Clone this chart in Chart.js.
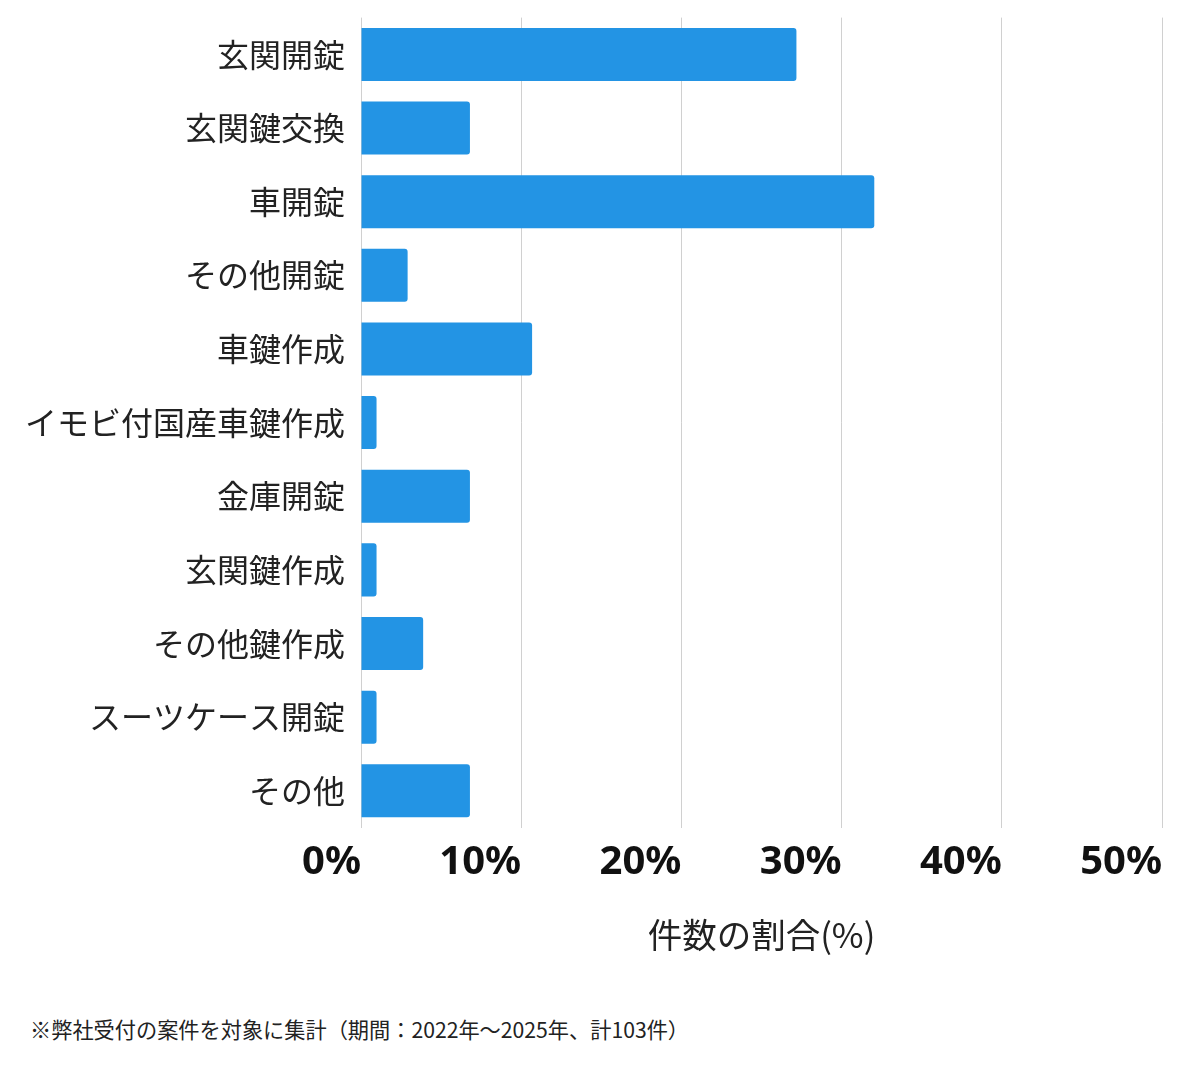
<!DOCTYPE html>
<html lang="ja">
<head>
<meta charset="utf-8">
<title>件数の割合</title>
<script src="https://cdn.jsdelivr.net/npm/chart.js@4.4.0/dist/chart.umd.min.js"></script>
<style>
  html, body { margin: 0; padding: 0; background: #fff; }
  #wrap { position: relative; width: 1200px; height: 1069px; }
  #chartBox { position: absolute; left: 0; top: 0; width: 1200px; height: 975px; }
  #note {
    position: absolute; left: 30px; top: 1013px;
    font-family: "Noto Sans CJK JP", "Noto Sans", sans-serif;
    font-size: 21.2px; color: #222;
  }
</style>
</head>
<body>
<div id="wrap">
  <div id="chartBox"><canvas id="caseChart"></canvas></div>
  <div id="note">※弊社受付の案件を対象に集計（期間：2022年〜2025年、計103件）</div>
</div>
<script>
// categories and share of cases (%), 103 cases total
var categories = ['玄関開錠', '玄関鍵交換', '車開錠', 'その他開錠', '車鍵作成', 'イモビ付国産車鍵作成',
                  '金庫開錠', '玄関鍵作成', 'その他鍵作成', 'スーツケース開錠', 'その他'];
var shareValues = [27.18, 6.80, 32.04, 2.91, 10.68, 0.97, 6.80, 0.97, 3.88, 0.97, 6.80];
var xTicks = [0, 10, 20, 30, 40, 50];
var xTitle = '件数の割合(%)';

var jpFont = '"Noto Sans CJK JP", "Noto Sans", sans-serif';

var ctx = document.getElementById('caseChart');
var chart = new Chart(ctx, {
    type: 'bar',
    data: {
        labels: categories,
        datasets: [{
            data: shareValues,
            backgroundColor: '#2394e4',
            borderRadius: 3,
            borderSkipped: 'start'
        }]
    },
    options: {
        indexAxis: 'y',
        responsive: true,
        maintainAspectRatio: false,
        animation: false,
        layout: { padding: { top: 1, right: 38, left: 9, bottom: 19 } },
        plugins: {
            legend: { display: false },
            tooltip: { enabled: false }
        },
        scales: {
            x: {
                min: xTicks[0],
                max: xTicks[xTicks.length - 1],
                afterBuildTicks: function(axis) {
                    axis.ticks = xTicks.map(function(v) { return { value: v }; });
                },
                grid: { color: '#d0d0d0', drawTicks: false },
                border: { display: false },
                ticks: {
                    align: 'end',
                    padding: 11,
                    color: '#111',
                    font: { family: '"Noto Sans", sans-serif', size: 40, weight: 'bold' },
                    callback: function(v) { return v + '%'; }
                },
                title: {
                    display: true,
                    text: xTitle,
                    color: '#222',
                    padding: { top: 17, bottom: 0 },
                    font: { family: jpFont, size: 34.5 }
                }
            },
            y: {
                grid: { display: false, drawTicks: false },
                border: { display: false },
                ticks: {
                    padding: 16,
                    color: '#222',
                    font: { family: jpFont, size: 32, lineHeight: 0.1 }
                }
            }
        }
    }
});
</script>
</body>
</html>
